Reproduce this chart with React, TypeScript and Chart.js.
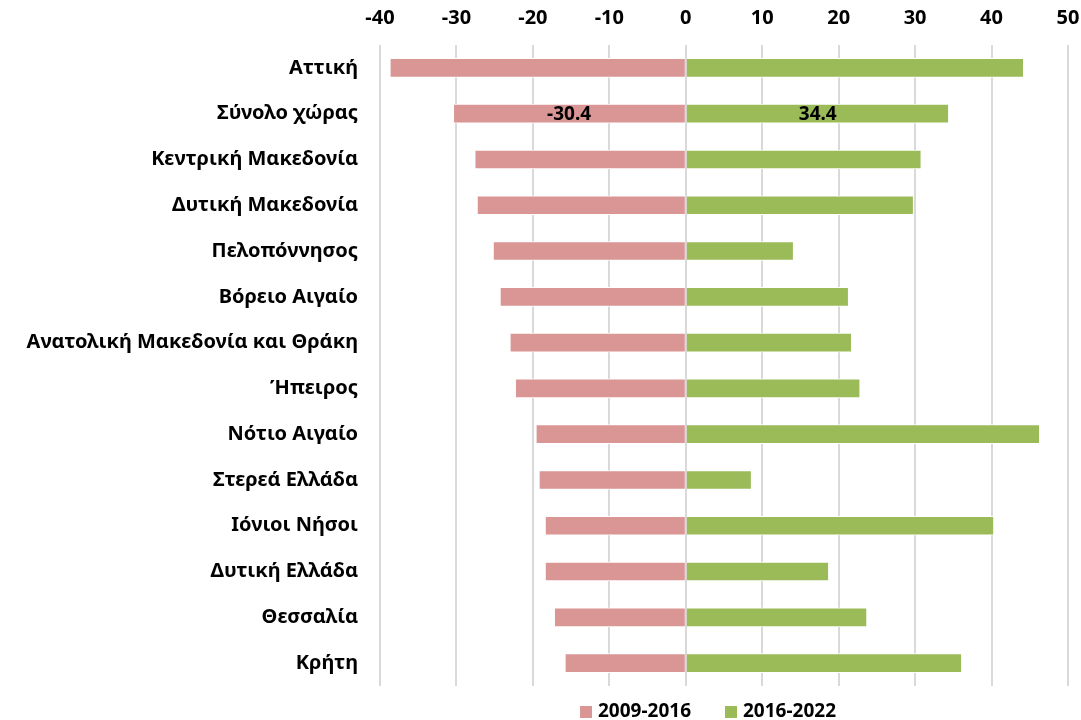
import React, { useEffect, useRef } from "react";
import { Chart, registerables } from "chart.js";

Chart.register(...registerables);

const categories = [
  "Αττική",
  "Σύνολο χώρας",
  "Κεντρική Μακεδονία",
  "Δυτική Μακεδονία",
  "Πελοπόννησος",
  "Βόρειο Αιγαίο",
  "Ανατολική Μακεδονία και Θράκη",
  "Ήπειρος",
  "Νότιο Αιγαίο",
  "Στερεά Ελλάδα",
  "Ιόνιοι Νήσοι",
  "Δυτική Ελλάδα",
  "Θεσσαλία",
  "Κρήτη",
];

const series2009_2016 = [-38.7, -30.4, -27.6, -27.3, -25.2, -24.3, -23.0, -22.3, -19.6, -19.2, -18.4, -18.4, -17.2, -15.8];
const series2016_2022 = [44.2, 34.4, 30.8, 29.8, 14.1, 21.3, 21.7, 22.8, 46.3, 8.6, 40.3, 18.7, 23.7, 36.1];

const seriesNames = ["2009-2016", "2016-2022"];
const seriesColors = ["#D99694", "#9BBB59"];
const labelledCategory = "Σύνολο χώρας";
const xTicks = { min: -40, max: 50, step: 10 };

const FONT = "'Noto Sans', 'Open Sans', sans-serif";

const labelPlugin = {
  id: "barLabels",
  afterDatasetsDraw(chart: any) {
    const ctx = chart.ctx;
    const idx = categories.indexOf(labelledCategory);
    ctx.save();
    ctx.font = `bold 19px ${FONT}`;
    ctx.fillStyle = "#000000";
    ctx.textAlign = "center";
    ctx.textBaseline = "middle";
    chart.data.datasets.forEach((ds: any, di: number) => {
      const meta = chart.getDatasetMeta(di);
      const el = meta.data[idx];
      if (!el) return;
      const p = el.getProps(["x", "y", "base"], true);
      const cx = (p.x + p.base) / 2;
      ctx.fillText(ds.data[idx].toFixed(1), cx, p.y + 1);
    });
    ctx.restore();
  },
};

const legendPlugin = {
  id: "customLegend",
  afterDraw(chart: any) {
    const ctx = chart.ctx;
    ctx.save();
    ctx.font = `bold 19px ${FONT}`;
    ctx.textBaseline = "middle";
    ctx.textAlign = "left";
    const box = 12;
    const gapBoxText = 6;
    const gapItems = 34;
    const widths = chart.data.datasets.map((ds: any) => ctx.measureText(ds.label).width);
    const total = widths.reduce((a: number, w: number) => a + box + gapBoxText + w, 0) + gapItems * (widths.length - 1);
    const centerX = (chart.chartArea.left + chart.chartArea.right) / 2 - 16;
    let x = centerX - total / 2;
    const y = chart.chartArea.bottom + 26;
    chart.data.datasets.forEach((ds: any, i: number) => {
      ctx.fillStyle = ds.backgroundColor;
      ctx.fillRect(x, y - box / 2, box, box);
      x += box + gapBoxText;
      ctx.fillStyle = "#000000";
      ctx.fillText(ds.label, x, y);
      x += widths[i] + gapItems;
    });
    ctx.restore();
  },
};

export default function App() {
  const ref = useRef<HTMLCanvasElement | null>(null);
  useEffect(() => {
    if (!ref.current) return;
    const chart = new Chart(ref.current, {
      type: "bar",
      data: {
        labels: categories,
        datasets: [
          {
            label: seriesNames[0],
            data: series2009_2016,
            backgroundColor: seriesColors[0],
            borderColor: "#ffffff",
            borderWidth: 1,
            barThickness: 19,
          },
          {
            label: seriesNames[1],
            data: series2016_2022,
            backgroundColor: seriesColors[1],
            borderColor: "#ffffff",
            borderWidth: 1,
            barThickness: 19,
          },
        ],
      },
      options: {
        indexAxis: "y",
        animation: false,
        responsive: false,
        maintainAspectRatio: false,
        layout: { padding: { left: 0, right: 0, top: 0, bottom: 33 } },
        scales: {
          x: {
            position: "top",
            min: xTicks.min,
            max: xTicks.max,
            stacked: true,
            ticks: {
              stepSize: xTicks.step,
              color: "#000000",
              font: { family: FONT, size: 20, weight: "bold" },
              padding: 15,
            },
            grid: { color: "#d9d9d9", lineWidth: 2, drawTicks: false },
            border: { display: false },
            afterFit(scale: any) {
              scale.height = 45;
              scale.paddingRight = 13;
              scale.paddingLeft = 0;
            },
          },
          y: {
            stacked: true,
            ticks: {
              color: "#000000",
              font: { family: FONT, size: 20, weight: "bold" },
              padding: 22,
            },
            grid: { display: false, drawTicks: false },
            border: { display: false },
            afterFit(scale: any) {
              scale.width = 380;
            },
          },
        },
        plugins: {
          legend: { display: false },
          tooltip: { enabled: false },
        },
      },
      plugins: [labelPlugin, legendPlugin],
    });
    return () => chart.destroy();
  }, []);
  return (
    <div style={{ position: "absolute", left: 0, top: 0, width: 1081, height: 720, background: "#fff" }}>
      <canvas ref={ref} width={1081} height={720} />
    </div>
  );
}
